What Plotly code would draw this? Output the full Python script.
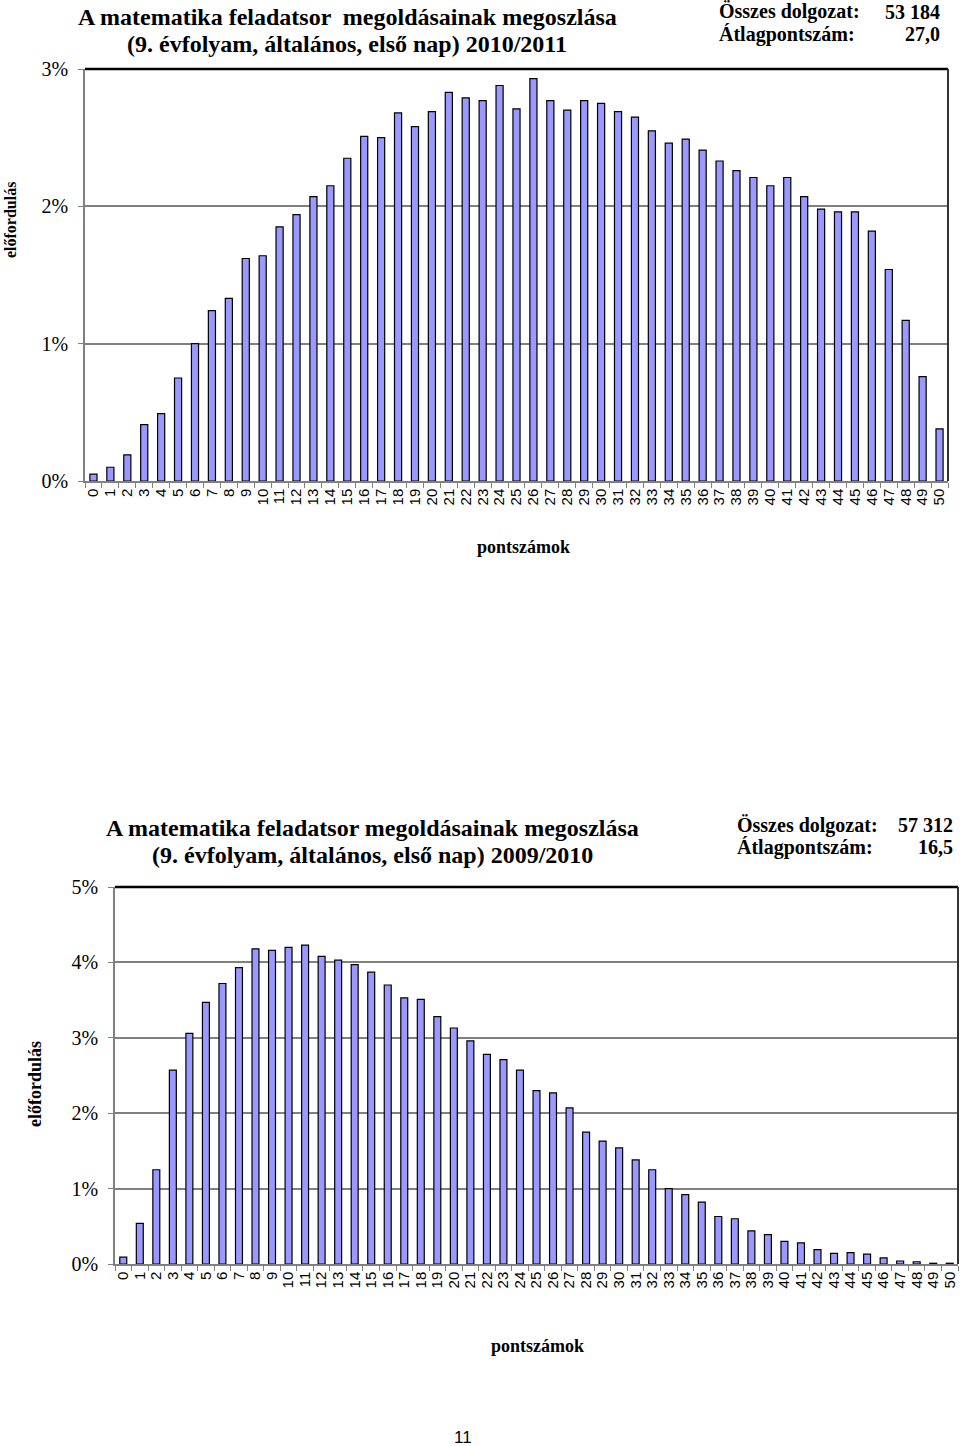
import plotly.graph_objects as go

points = [str(i) for i in range(51)]

# 2010/2011 distribution (%)
vals_2011 = [0.05, 0.10, 0.19, 0.41, 0.49, 0.75, 1.00, 1.24, 1.33, 1.62,
             1.64, 1.85, 1.94, 2.07, 2.15, 2.35, 2.51, 2.50, 2.68, 2.58,
             2.69, 2.83, 2.79, 2.77, 2.88, 2.71, 2.93, 2.77, 2.70, 2.77,
             2.75, 2.69, 2.65, 2.55, 2.46, 2.49, 2.41, 2.33, 2.26, 2.21,
             2.15, 2.21, 2.07, 1.98, 1.96, 1.96, 1.82, 1.54, 1.17, 0.76,
             0.38]

# 2009/2010 distribution (%)
vals_2010 = [0.09, 0.54, 1.25, 2.57, 3.06, 3.47, 3.72, 3.93, 4.18, 4.16,
             4.20, 4.23, 4.08, 4.03, 3.97, 3.87, 3.70, 3.53, 3.51, 3.28,
             3.13, 2.96, 2.78, 2.71, 2.57, 2.30, 2.27, 2.07, 1.75, 1.63,
             1.54, 1.38, 1.25, 1.00, 0.92, 0.82, 0.63, 0.60, 0.44, 0.39,
             0.30, 0.28, 0.19, 0.14, 0.15, 0.13, 0.08, 0.04, 0.03, 0.01,
             0.01]

title_top = ["A matematika feladatsor  megoldásainak megoszlása",
             "(9. évfolyam, általános, első nap) 2010/2011"]
title_bot = ["A matematika feladatsor megoldásainak megoszlása",
             "(9. évfolyam, általános, első nap) 2009/2010"]
stats_top = [("Összes dolgozat:", "53 184"), ("Átlagpontszám:", "27,0")]
stats_bot = [("Összes dolgozat:", "57 312"), ("Átlagpontszám:", "16,5")]

W, H = 960, 1446
def px(x): return x / W
def py(y): return 1 - y / H

BAR = "#9999FF"
GRID = "#808080"
SERIF = "Liberation Serif, Times New Roman, serif"
SANS = "Liberation Sans, Arial, sans-serif"

fig = go.Figure()
fig.add_trace(go.Bar(x=points, y=vals_2011, xaxis="x", yaxis="y",
                     marker=dict(color=BAR, line=dict(color="black", width=1.2)),
                     width=0.42, showlegend=False, hoverinfo="x+y"))
fig.add_trace(go.Bar(x=points, y=vals_2010, xaxis="x2", yaxis="y2",
                     marker=dict(color=BAR, line=dict(color="black", width=1.2)),
                     width=0.42, showlegend=False, hoverinfo="x+y"))

def xax(domain, anchor):
    return dict(domain=domain, anchor=anchor, type="category", automargin=False,
                tickmode="linear", tick0=0, dtick=1,
                tickangle=-90, ticks="outside", tickson="boundaries",
                ticklen=5, tickcolor=GRID, showline=True, linecolor=GRID,
                linewidth=1.5, showgrid=False,
                tickfont=dict(family=SANS, size=15, color="black"))

def yax(domain, anchor, rng):
    return dict(domain=domain, anchor=anchor, range=rng, dtick=1, automargin=False,
                ticksuffix="%", ticks="outside", ticklen=5, tickcolor=GRID,
                ticklabelstandoff=6,
                showline=True, linecolor=GRID, linewidth=1.5,
                showgrid=True, gridcolor=GRID, gridwidth=1.5, zeroline=False,
                tickfont=dict(family=SERIF, size=20, color="black"))

fig.update_layout(
    width=W, height=H,
    margin=dict(l=0, r=0, t=0, b=0, autoexpand=False),
    paper_bgcolor="white", plot_bgcolor="white",
    bargap=0.58,
    xaxis=xax([px(85), px(948)], "y"),
    yaxis=yax([py(481), py(69)], "x", [0, 3]),
    xaxis2=xax([px(115), px(958)], "y2"),
    yaxis2=yax([py(1264), py(887)], "x2", [0, 5]),
)

shapes = []
for xr, yr in [("x domain", "y domain"), ("x2 domain", "y2 domain")]:
    shapes.append(dict(type="line", xref=xr, yref=yr, x0=0, x1=1, y0=1, y1=1,
                       line=dict(color="black", width=2.5)))
    shapes.append(dict(type="line", xref=xr, yref=yr, x0=1, x1=1, y0=0, y1=1,
                       line=dict(color="#333333", width=2)))
fig.update_layout(shapes=shapes)

ann = []
def title(lines, x, y0):
    for i, t in enumerate(lines):
        ann.append(dict(text="<b>" + t + "</b>", x=px(x), y=py(y0 + 27 * i), xref="paper", yref="paper",
                        xanchor="center", yanchor="middle", showarrow=False,
                        font=dict(family=SERIF, size=24, color="black")))
title(title_top, 347, 17)
title(title_bot, 372, 828)

def stats(items, xl, xr, y0):
    for i, (lab, val) in enumerate(items):
        yy = y0 + i * 22
        ann.append(dict(text="<b>" + lab + "</b>", x=px(xl), y=py(yy), xref="paper", yref="paper",
                        xanchor="left", yanchor="middle", showarrow=False,
                        font=dict(family=SERIF, size=20, color="black")))
        ann.append(dict(text="<b>" + val + "</b>", x=px(xr), y=py(yy), xref="paper", yref="paper",
                        xanchor="right", yanchor="middle", showarrow=False,
                        font=dict(family=SERIF, size=20, color="black")))
stats(stats_top, 717, 942, 12)
stats(stats_bot, 735, 955, 825)

def ytitle(x, y, size):
    ann.append(dict(text="<b>előfordulás</b>", x=px(x), y=py(y), xref="paper", yref="paper",
                    xanchor="center", yanchor="middle", showarrow=False, textangle=-90,
                    font=dict(family=SERIF, size=size, color="black")))
ytitle(10, 220, 16)
ytitle(35, 1084, 18)

def xtitle(x, y):
    ann.append(dict(text="<b>pontszámok</b>", x=px(x), y=py(y), xref="paper", yref="paper",
                    xanchor="center", yanchor="middle", showarrow=False,
                    font=dict(family=SERIF, size=18, color="black")))
xtitle(523, 547)
xtitle(537, 1346)

ann.append(dict(text="11", x=px(463), y=py(1437), xref="paper", yref="paper",
                xanchor="center", yanchor="middle", showarrow=False,
                font=dict(family="Liberation Sans Narrow, Liberation Sans, Arial", size=17, color="black")))

fig.update_layout(annotations=ann)
fig.write_html("out.html", config={"displayModeBar": False},
               post_script="document.body.style.margin='0';document.body.style.padding='0';")
